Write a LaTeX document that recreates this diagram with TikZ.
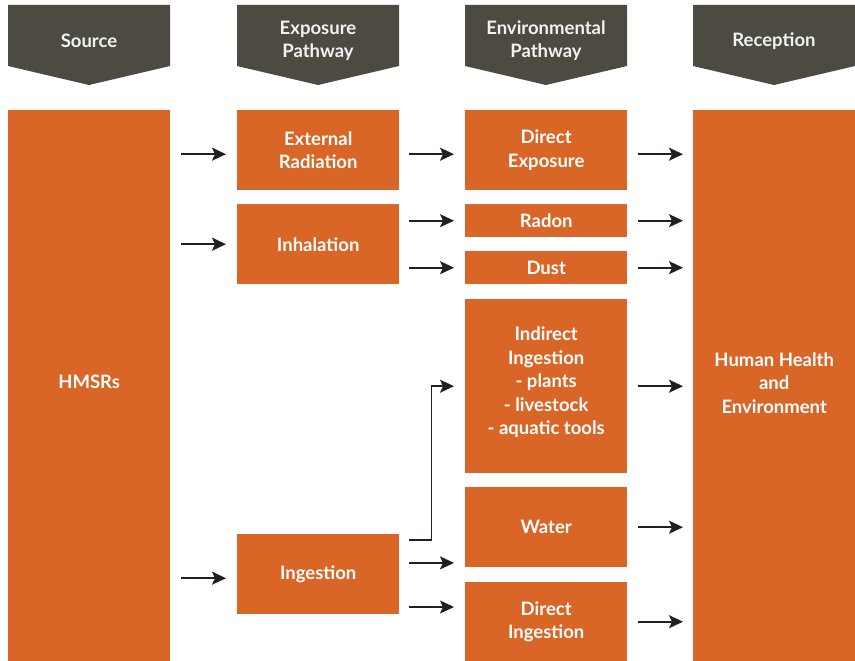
\documentclass[tikz,border=0pt]{standalone}
\usepackage{fontspec}
\setmainfont{Lato}
\usetikzlibrary{arrows.meta,calc}
\definecolor{hdr}{HTML}{4D4A42}
\definecolor{org}{HTML}{D96526}
\definecolor{arr}{HTML}{231F20}
\begin{document}
\begin{tikzpicture}[x=1pt,y=-1pt,
  box/.style={fill=org, text=white, font=\fontsize{18.5}{23.5}\selectfont\bfseries, align=center, inner sep=0pt, anchor=north west, minimum width=162pt},
  hdrshape/.style={fill=hdr},
  hdrtext/.style={text=white!95!black, font=\fontsize{18.5}{23}\selectfont\bfseries, align=center, inner sep=0pt},
  conn/.style={draw=arr, line width=1.6pt, -{Stealth[length=14pt,width=13pt,inset=3pt]}}
]
\useasboundingbox (0,0) rectangle (855,661);

% headers
\foreach \x/\nm/\txt in {8/hsrc/Source, 237/hexp/{Exposure\\Pathway}, 465/henv/{Environmental\\Pathway}, 693/hrec/Reception}{
  \fill[hdrshape] (\x,5) -- ++(162,0) -- ++(0,61) -- ++(-81,19) -- ++(-81,-19) -- cycle;
  \node[hdrtext] (\nm) at ($(\x,41)+(81,0)$) {\txt};
}

% boxes
\node[box, minimum height=551pt, text depth=8pt] (hmsr) at (8,110) {HMSRs};
\node[box, minimum height=80pt] (ext) at (237,110) {External\\Radiation};
\node[box, minimum height=80pt] (inh) at (237,204) {Inhalation};
\node[box, minimum height=80pt] (ing) at (237,534) {Ingestion};
\node[box, minimum height=80pt] (dexp) at (465,110) {Direct\\Exposure};
\node[box, minimum height=33pt] (rad) at (465,204) {Radon};
\node[box, minimum height=33pt] (dust) at (465,251) {Dust};
\node[box, minimum height=174pt, text depth=10.5pt] (ind) at (465,299) {Indirect\\Ingestion\\- plants\\- livestock\\- aquatic tools};
\node[box, minimum height=80pt] (wat) at (465,487) {Water};
\node[box, minimum height=79pt] (ding) at (465,582) {Direct\\Ingestion};
\node[box, minimum height=551pt, text depth=6pt] (hh) at (693,110) {Human Health\\and\\Environment};

% source -> exposure
\draw[conn] ([xshift=11pt,yshift=-4pt]hmsr.east |- ext.center) -- ([xshift=-11pt,yshift=-4pt]ext.west);
\draw[conn] ([xshift=11pt]hmsr.east |- inh.center) -- ([xshift=-11pt]inh.west);
\draw[conn] ([xshift=11pt,yshift=-4pt]hmsr.east |- ing.center) -- ([xshift=-11pt,yshift=-4pt]ing.west);

% exposure -> environmental
\draw[conn] ([xshift=10pt,yshift=-4pt]ext.east) -- ([xshift=-11pt,yshift=-4pt]dexp.west);
\draw[conn] ([xshift=10pt]ext.east |- rad.center) -- ([xshift=-11pt]rad.west);
\draw[conn] ([xshift=10pt]ext.east |- dust.center) -- ([xshift=-11pt]dust.west);
\draw[conn] ([xshift=10pt,yshift=-6pt]ing.north east) -- ++(22,0) |- ([xshift=-11pt]ind.west);
\draw[conn] ([xshift=10pt,yshift=4.5pt]ing.east |- wat.south) -- ([xshift=-11pt,yshift=4.5pt]wat.south west);
\draw[conn] ([xshift=10pt,yshift=-25pt]ing.east |- ding.north) -- ([xshift=-11pt,yshift=-25pt]ding.north west);

% environmental -> reception
\draw[conn] ([xshift=11pt,yshift=-4pt]dexp.east) -- ([xshift=-10pt,yshift=-4pt]hh.west |- dexp.east);
\draw[conn] ([xshift=11pt]rad.east) -- ([xshift=-10pt]hh.west |- rad.east);
\draw[conn] ([xshift=11pt]dust.east) -- ([xshift=-10pt]hh.west |- dust.east);
\draw[conn] ([xshift=11pt]ind.east) -- ([xshift=-10pt]hh.west |- ind.east);
\draw[conn] ([xshift=11pt]wat.east) -- ([xshift=-10pt]hh.west |- wat.east);
\draw[conn] ([xshift=11pt]ding.east) -- ([xshift=-10pt]hh.west |- ding.east);
\end{tikzpicture}
\end{document}
